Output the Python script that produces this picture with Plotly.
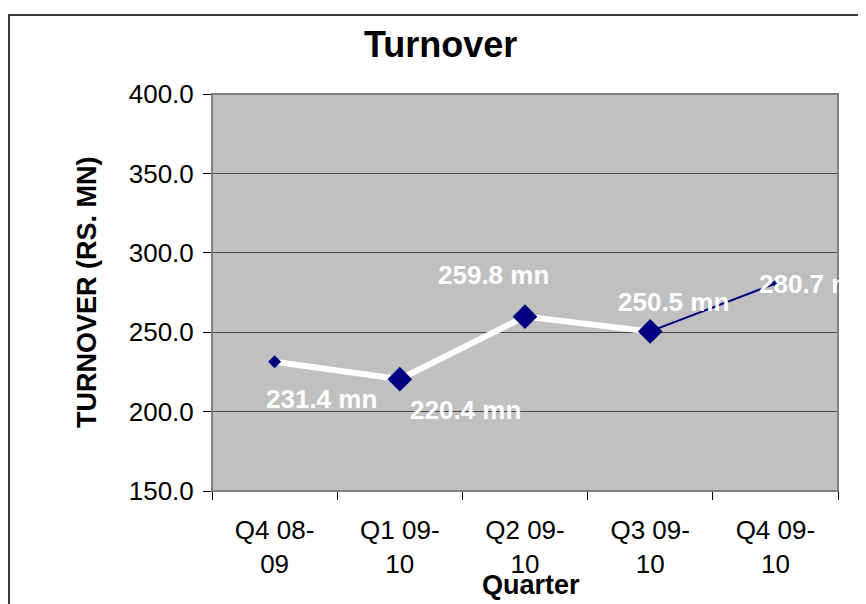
import plotly.graph_objects as go

quarters = ["Q4 08-<br>09", "Q1 09-<br>10", "Q2 09-<br>10", "Q3 09-<br>10", "Q4 09-<br>10"]
turnover = [231.4, 220.4, 259.8, 250.5, 280.7]
label_dx = [47, 66, -32, 23, 39]
label_dy = [-37, -31, 42, 29, -1]
marker_sizes = [10, 19, 19, 19, 6]

FONT = "Arial, Liberation Sans, sans-serif"
PAGE_W, PAGE_H = 866, 604
OFF = 8  # default body margin of the page
W, H = PAGE_W - OFF, PAGE_H - OFF
L, R, T, B = 212, 838, 94, 491  # plot area in page pixels

def px(x):
    return (x - L) / (R - L)

def py(y):
    return (B - y) / (B - T)

fig = go.Figure()
fig.add_trace(go.Scatter(x=quarters[:4], y=turnover[:4], mode="lines",
                         line=dict(color="white", width=6), hoverinfo="skip"))
fig.add_trace(go.Scatter(x=quarters[3:], y=turnover[3:], mode="lines",
                         line=dict(color="#000080", width=2), hoverinfo="skip"))
fig.add_trace(go.Scatter(x=quarters, y=turnover, mode="markers",
                         marker=dict(symbol="diamond", size=marker_sizes, color="#000080",
                                     opacity=1, line=dict(width=0))))

for q, v, dx, dy in zip(quarters, turnover, label_dx, label_dy):
    fig.add_annotation(x=q, y=v, text=f"{v:.1f} mn", showarrow=False,
                       xshift=dx, yshift=dy,
                       font=dict(family=FONT, size=26, color="white", weight="bold"))

fig.add_annotation(xref="paper", yref="paper", x=px(440), y=py(45), text="Turnover",
                   showarrow=False, xanchor="center", yanchor="middle",
                   font=dict(family=FONT, size=36, color="black", weight="bold"))
fig.add_annotation(xref="paper", yref="paper", x=px(87), y=py(292), text="TURNOVER (RS. MN)",
                   showarrow=False, textangle=-90, xanchor="center", yanchor="middle",
                   font=dict(family=FONT, size=27, color="black", weight="bold"))
fig.add_annotation(xref="paper", yref="paper", x=px(531), y=py(585), text="Quarter",
                   showarrow=False, xanchor="center", yanchor="middle",
                   font=dict(family=FONT, size=27, color="black", weight="bold"))

# plot area border and outer chart border
fig.add_shape(type="rect", xref="paper", yref="paper", x0=0, y0=0, x1=1, y1=1,
              line=dict(color="#808080", width=2), layer="above")
fig.add_shape(type="rect", xref="paper", yref="paper", x0=px(9), y0=py(15), x1=px(920), y1=py(660),
              line=dict(color="#3a3a3a", width=2), layer="above")

fig.update_layout(
    width=W, height=H,
    margin=dict(l=L - OFF, r=PAGE_W - R, t=T - OFF, b=PAGE_H - B),
    paper_bgcolor="white", plot_bgcolor="#C0C0C0",
    showlegend=False,
    font=dict(family=FONT, color="black"),
)
fig.update_xaxes(type="category", range=[-0.5, 4.5], tickson="boundaries",
                 ticks="outside", ticklen=8, tickcolor="black", tickwidth=1,
                 showline=True, linecolor="black", linewidth=1, showgrid=False,
                 tickfont=dict(family=FONT, size=26, color="black"),
                 ticklabelstandoff=16)
fig.update_yaxes(range=[150, 400], dtick=50, tickformat=".1f",
                 ticks="outside", ticklen=8, tickcolor="black", tickwidth=1,
                 showline=True, linecolor="black", linewidth=1,
                 showgrid=True, gridcolor="#4a4a4a", gridwidth=1, zeroline=False,
                 tickfont=dict(family=FONT, size=26, color="black"),
                 ticklabelstandoff=4)

fig.write_html("out.html")
